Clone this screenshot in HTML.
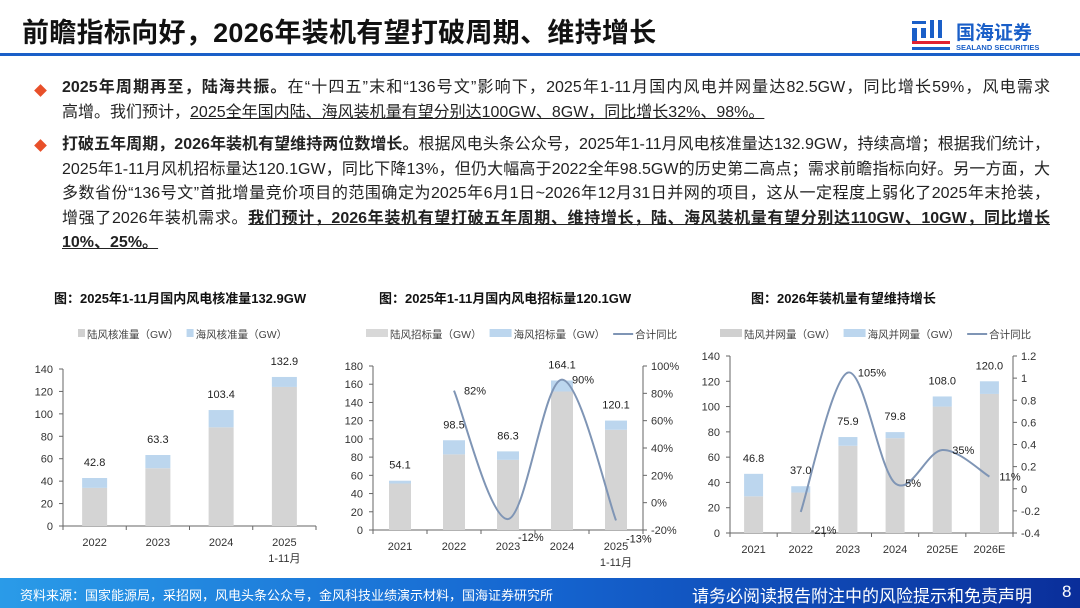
<!DOCTYPE html>
<html><head><meta charset="utf-8">
<style>
body{margin:0;width:1080px;height:608px;overflow:hidden;background:#fff;font-family:"Liberation Sans","Noto Sans CJK SC",sans-serif;position:relative}
.title{position:absolute;left:22px;top:11px;font-size:27px;font-weight:bold;color:#111;letter-spacing:0.3px}
.rule{position:absolute;left:0;top:53px;width:1080px;height:3px;background:#1a5fc8}
.logo{position:absolute;left:912px;top:17px}
.body{position:absolute;left:62px;top:76px;font-size:16px;color:#222;line-height:24.5px;white-space:nowrap}
.body div{width:988px}
.j{text-align:justify;text-align-last:justify}
.bul{position:absolute;width:9px;height:9px;background:#e8502a;transform:rotate(45deg)}
.u{text-decoration:underline}
.ct{position:absolute;font-size:13px;font-weight:bold;color:#111}
.footer{position:absolute;left:0;top:578px;width:1080px;height:30px;background:linear-gradient(90deg,#2a9be8,#1565d0 50%,#0a2e9a);color:#fff}
svg text{font-family:"Liberation Sans","Noto Sans CJK SC",sans-serif}
</style></head><body>
<div class="title">前瞻指标向好，2026年装机有望打破周期、维持增长</div>
<div class="rule"></div>
<div class="logo">
<svg width="150" height="36">
<rect x="0" y="4" width="14" height="3" fill="#1a5fc8"/><rect x="0" y="11" width="5" height="14" fill="#1a5fc8"/><rect x="9" y="11" width="5" height="10" fill="#1a5fc8"/>
<rect x="18" y="3" width="4" height="18" fill="#1a5fc8"/><rect x="26" y="3" width="4" height="18" fill="#1a5fc8"/>
<rect x="0" y="24" width="38" height="3" fill="#e02030"/><rect x="0" y="30" width="38" height="3" fill="#1a5fc8"/>
<text x="44" y="22" font-size="19" font-weight="bold" fill="#1a5fc8">国海证券</text>
<text x="44" y="33" font-size="7.5" font-weight="bold" fill="#1a5fc8">SEALAND SECURITIES</text>
</svg></div>

<div class="bul" style="left:36px;top:86px"></div>
<div class="bul" style="left:36px;top:141px"></div>
<div class="body">
<div class="j"><b>2025年周期再至，陆海共振。</b>在“十四五”末和“136号文”影响下，2025年1-11月国内风电并网量达82.5GW，同比增长59%，风电需求</div>
<div>高增。我们预计，<span class="u">2025全年国内陆、海风装机量有望分别达100GW、8GW，同比增长32%、98%。</span></div>
<div class="j" style="margin-top:8px"><b>打破五年周期，2026年装机有望维持两位数增长。</b>根据风电头条公众号，2025年1-11月风电核准量达132.9GW，持续高增；根据我们统计，</div>
<div class="j">2025年1-11月风机招标量达120.1GW，同比下降13%，但仍大幅高于2022全年98.5GW的历史第二高点；需求前瞻指标向好。另一方面，大</div>
<div class="j">多数省份“136号文”首批增量竞价项目的范围确定为2025年6月1日~2026年12月31日并网的项目，这从一定程度上弱化了2025年末抢装，</div>
<div class="j">增强了2026年装机需求。<b class="u">我们预计，2026年装机有望打破五年周期、维持增长，陆、海风装机量有望分别达110GW、10GW，同比增长</b></div>
<div><b class="u">10%、25%。</b></div>
</div>

<div class="ct" style="left:54px;top:288px">图：2025年1-11月国内风电核准量132.9GW</div>
<div class="ct" style="left:379px;top:288px">图：2025年1-11月国内风电招标量120.1GW</div>
<div class="ct" style="left:751px;top:288px">图：2026年装机量有望维持增长</div>

<svg id="charts" width="1080" height="608" style="position:absolute;left:0;top:0"></svg>

<div class="footer">
<span style="position:absolute;left:20px;top:7px;font-size:13px">资料来源：国家能源局，采招网，风电头条公众号，金风科技业绩演示材料，国海证券研究所</span>
<span style="position:absolute;left:692px;top:4px;font-size:17px">请务必阅读报告附注中的风险提示和免责声明</span>
<span style="position:absolute;left:1062px;top:4px;font-size:17px">8</span>
</div>

<script>
// Chart 1 data
const c1Cats=["2022","2023","2024","2025|1-11月"];
const c1Land=[34,51.5,88,124];
const c1Total=[42.8,63.3,103.4,132.9];
const c1Ticks=[0,20,40,60,80,100,120,140];
// Chart 2 data
const c2Cats=["2021","2022","2023","2024","2025|1-11月"];
const c2Land=[51,83,77,152,110];
const c2Total=[54.1,98.5,86.3,164.1,120.1];
const c2Yoy=[null,82,-12,90,-13];
const c2Ticks=[0,20,40,60,80,100,120,140,160,180];
const c2RTicks=[-20,0,20,40,60,80,100];
// Chart 3 data
const c3Cats=["2021","2022","2023","2024","2025E","2026E"];
const c3Land=[29,32,69,75,100,110];
const c3Total=[46.8,37.0,75.9,79.8,108.0,120.0];
const c3Yoy=[null,-0.21,1.05,0.05,0.35,0.11];
const c3Ticks=[0,20,40,60,80,100,120,140];
const c3RTicks=[-0.4,-0.2,0,0.2,0.4,0.6,0.8,1,1.2];

const NS="http://www.w3.org/2000/svg";
const svg=document.getElementById('charts');
function mk(tag,attrs,parent,txt){const e=document.createElementNS(NS,tag);for(const k in attrs)e.setAttribute(k,attrs[k]);if(txt!==undefined)e.textContent=txt;(parent||svg).appendChild(e);return e;}

function drawChart(cfg){
  const g=mk('g',{});
  
  
  const n=cfg.cats.length, step=(cfg.x1-cfg.x0)/n;
  const y=v=>cfg.yb-(v-cfg.min)/(cfg.max-cfg.min)*(cfg.yb-cfg.yt);
  const cx=i=>cfg.x0+step*(i+0.5);
  const ax=mk('line',{x1:cfg.x0,y1:y(0),x2:cfg.x1,y2:y(0),stroke:'#666','stroke-width':1},g);
  
  
  mk('line',{x1:cfg.x0,y1:cfg.yt,x2:cfg.x0,y2:y(0),stroke:'#666'},g);
  cfg.ticks.forEach(t=>{
    mk('line',{x1:cfg.x0-4,y1:y(t),x2:cfg.x0,y2:y(t),stroke:'#666'},g);
    const tl=mk('text',{x:cfg.x0-10,y:y(t)+4,'font-size':11,'text-anchor':'end',fill:'#333'},g,t);
    
    
  });
  for(let i=0;i<=n;i++) mk('line',{x1:cfg.x0+step*i,y1:y(0),x2:cfg.x0+step*i,y2:y(0)+4,stroke:'#666'},g);
  cfg.cats.forEach((c,i)=>{
    const parts=c.split('|');
    parts.forEach((p,j)=>{
      const t=mk('text',{x:cx(i),y:y(0)+20+j*16,'font-size':11,'text-anchor':'middle',fill:'#333'},g,p);
      
      
    });
  });
  cfg.land.forEach((v,i)=>{
    const b=mk('rect',{x:cx(i)-cfg.bw/2,y:y(v),width:cfg.bw,height:y(0)-y(v),fill:'#d4d4d4'},g);
    
    
    const tot=cfg.total[i];
    const s=mk('rect',{x:cx(i)-cfg.bw/2,y:y(tot),width:cfg.bw,height:y(v)-y(tot),fill:'#bcd6ee'},g);
    
    
    const l=mk('text',{x:cx(i),y:y(tot)-12,'font-size':11,'text-anchor':'middle',fill:'#222'},g,tot.toFixed(1));
    
    
  });
  if(cfg.yoy){
    const yr=v=>cfg.yb-(v-cfg.rmin)/(cfg.rmax-cfg.rmin)*(cfg.yb-cfg.yt);
    mk('line',{x1:cfg.x1,y1:cfg.yt,x2:cfg.x1,y2:cfg.yb,stroke:'#666'},g);
    cfg.rticks.forEach(t=>{
      mk('line',{x1:cfg.x1,y1:yr(t),x2:cfg.x1+4,y2:yr(t),stroke:'#666'},g);
      const tl=mk('text',{x:cfg.x1+8,y:yr(t)+4,'font-size':11,fill:'#333'},g,cfg.rfmt(t));
      
      
    });
    const pts=[];
    cfg.yoy.forEach((v,i)=>{if(v!==null)pts.push([cx(i),yr(v),v]);});
    let d='M'+pts[0][0]+','+pts[0][1];
    for(let i=0;i<pts.length-1;i++){
      const p0=pts[Math.max(0,i-1)],p1=pts[i],p2=pts[i+1],p3=pts[Math.min(pts.length-1,i+2)];
      const c1x=p1[0]+(p2[0]-p0[0])/6,c1y=p1[1]+(p2[1]-p0[1])/6;
      const c2x=p2[0]-(p3[0]-p1[0])/6,c2y=p2[1]-(p3[1]-p1[1])/6;
      d+=` C${c1x},${c1y} ${c2x},${c2y} ${p2[0]},${p2[1]}`;
    }
    const ln=mk('path',{d:d,fill:'none',stroke:'#7f95b5','stroke-width':2},g);
    
    
    pts.forEach(p=>{
      const l=mk('text',{x:p[0]+10,y:p[1]+(p[2]<cfg.lowThresh?22:4),'font-size':11,fill:'#222'},g,Math.round(p[2]*cfg.pmul)+'%');
      
      
    });
  }
  let lx=cfg.legX;
  cfg.legend.forEach(([label,type])=>{
    const leg=mk('g',{},g);
    
    
    if(type==='line'){mk('line',{x1:lx,y1:cfg.legY-4,x2:lx+20,y2:cfg.legY-4,stroke:'#7f95b5','stroke-width':2},leg);lx+=22;}
    else{mk('rect',{x:lx,y:cfg.legY-9,width:cfg.legSw,height:8,fill:type},leg);lx+=cfg.legSw+2;}
    const t=mk('text',{x:lx,y:cfg.legY,'font-size':10.5,fill:'#444'},leg,label);
    lx+=t.getComputedTextLength()+cfg.legGap;
  });
}

drawChart({name:'chart-approvals',cats:c1Cats,land:c1Land,total:c1Total,ticks:c1Ticks,min:0,max:140,
  x0:63,x1:316,yt:369,yb:526,bw:25,legX:78,legY:338,legSw:7,legGap:8,
  legend:[['陆风核准量（GW）','#d0d0d0'],['海风核准量（GW）','#bcd6ee']]});
drawChart({name:'chart-tenders',cats:c2Cats,land:c2Land,total:c2Total,ticks:c2Ticks,min:0,max:180,
  x0:373,x1:643,yt:366,yb:530,bw:22,yoy:c2Yoy,rticks:c2RTicks,rmin:-20,rmax:100,rfmt:t=>t+'%',pmul:1,lowThresh:0,
  legX:366,legY:338,legSw:22,legGap:8,
  legend:[['陆风招标量（GW）','#d8d8d8'],['海风招标量（GW）','#bcd6ee'],['合计同比','line']]});
drawChart({name:'chart-installs',cats:c3Cats,land:c3Land,total:c3Total,ticks:c3Ticks,min:0,max:140,
  x0:730,x1:1013,yt:356,yb:533,bw:19,yoy:c3Yoy,rticks:c3RTicks,rmin:-0.4,rmax:1.2,rfmt:t=>String(Math.round(t*10)/10),pmul:100,lowThresh:0,
  legX:720,legY:338,legSw:22,legGap:8,
  legend:[['陆风并网量（GW）','#d0d0d0'],['海风并网量（GW）','#bcd6ee'],['合计同比','line']]});
</script>
</body></html>
